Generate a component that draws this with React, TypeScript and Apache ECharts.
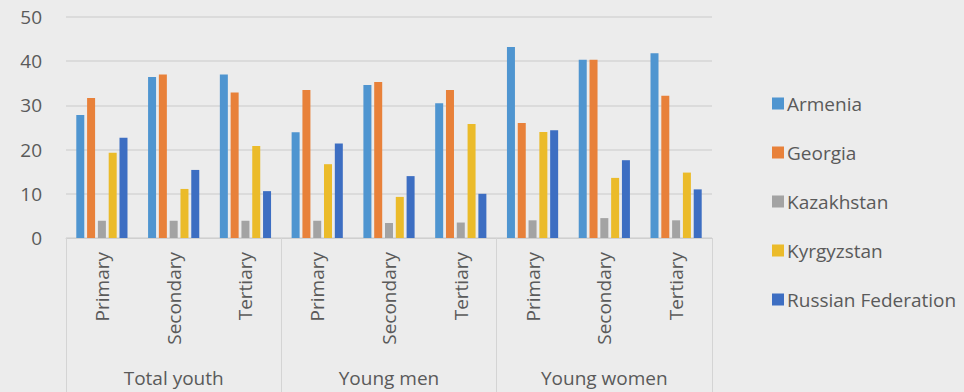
import React, { useEffect, useRef } from "react";
import * as echarts from "echarts";

const groups = ["Total youth", "Young men", "Young women"];
const categories = [
  "Primary", "Secondary", "Tertiary",
  "Primary", "Secondary", "Tertiary",
  "Primary", "Secondary", "Tertiary",
];
const seriesNames = ["Armenia", "Georgia", "Kazakhstan", "Kyrgyzstan", "Russian Federation"];
const armenia = [27.8, 36.4, 37.0, 23.9, 34.6, 30.5, 43.2, 40.3, 41.8];
const georgia = [31.7, 37.0, 32.9, 33.5, 35.3, 33.5, 26.0, 40.3, 32.2];
const kazakhstan = [3.9, 3.9, 3.9, 3.9, 3.4, 3.5, 4.0, 4.5, 4.0];
const kyrgyzstan = [19.3, 11.1, 20.8, 16.7, 9.3, 25.8, 24.0, 13.6, 14.8];
const russia = [22.7, 15.4, 10.6, 21.4, 14.0, 10.0, 24.4, 17.6, 11.0];
const colors = ["#4f95d0", "#e8813a", "#a3a3a3", "#ebbb2a", "#3d6ec2"];

export default function App() {
  const ref = useRef<HTMLDivElement>(null);
  useEffect(() => {
    if (!ref.current) return;
    const chart = echarts.init(ref.current, undefined, { renderer: "svg" });
    const values = [armenia, georgia, kazakhstan, kyrgyzstan, russia];
    const font = "'Open Sans', sans-serif";
    const textColor = "#5a5a5a";
    chart.setOption({
      animation: false,
      backgroundColor: "#ececec",
      textStyle: { fontFamily: font },
      grid: { left: 66, right: 252, top: 17, bottom: 154 },
      legend: {
        orient: "vertical",
        left: 767,
        top: 88,
        itemWidth: 12,
        itemHeight: 12,
        itemGap: 28,
        icon: "rect",
        data: seriesNames,
        textStyle: { color: textColor, fontSize: 19, fontFamily: font, lineHeight: 21, padding: [0, 0, 0, -2] },
      },
      xAxis: [
        {
          type: "category",
          data: categories,
          axisLine: { show: false },
          axisTick: { show: false },
          axisLabel: { rotate: 90, color: textColor, fontSize: 19, margin: 14, interval: 0, fontFamily: font },
        },
        {
          type: "category",
          data: groups,
          position: "bottom",
          axisLine: { show: true, lineStyle: { color: "#cfcfcf" } },
          axisTick: { show: true, length: 154, interval: 0, lineStyle: { color: "#d4d4d4" } },
          axisLabel: { color: textColor, fontSize: 19, margin: 130, interval: 0, fontFamily: font },
        },
      ],
      yAxis: {
        type: "value",
        min: 0,
        max: 50,
        interval: 10,
        axisLine: { show: false },
        axisTick: { show: false },
        axisLabel: { color: textColor, fontSize: 19, margin: 24, fontFamily: font, padding: [8, 0, 0, 0] },
        splitLine: { lineStyle: { color: "#d6d6d6", width: 1.5 } },
      },
      series: seriesNames.map((name, i) => ({
        name,
        type: "bar",
        xAxisIndex: 0,
        data: values[i],
        barWidth: 8,
        barGap: "35%",
        itemStyle: { color: colors[i] },
      })),
    });
    return () => chart.dispose();
  }, []);
  return <div ref={ref} style={{ width: 964, height: 392, position: "absolute", left: 0, top: 0 }} />;
}
